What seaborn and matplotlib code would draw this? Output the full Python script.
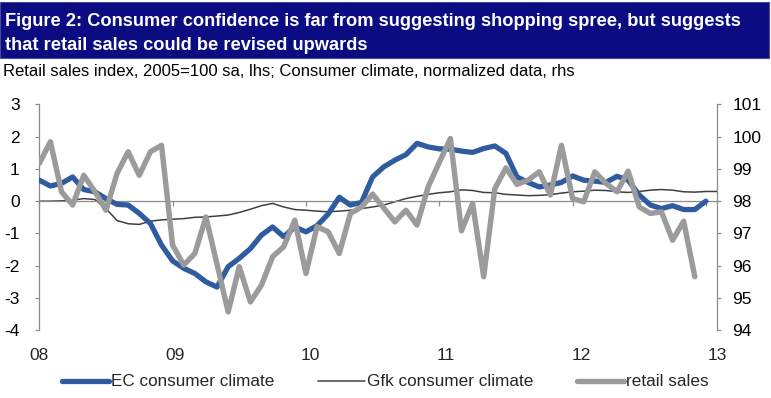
import numpy as np
import pandas as pd
import matplotlib
matplotlib.use("Agg")
import matplotlib.pyplot as plt
import seaborn as sns
from matplotlib.patches import Rectangle
from matplotlib import font_manager

# ---------------- data (monthly, month 0 = Jan 2008) ----------------
ec_climate = [0.65, 0.47, 0.55, 0.75, 0.36, 0.29, 0.08, -0.10, -0.12, -0.38, -0.69, -1.36, -1.85,
              -2.08, -2.24, -2.50, -2.66, -2.03, -1.77, -1.47, -1.05, -0.80, -1.10, -0.80, -0.95,
              -0.76, -0.40, 0.12, -0.12, -0.04, 0.75, 1.06, 1.27, 1.44, 1.79, 1.68, 1.62,
              1.61, 1.55, 1.51, 1.63, 1.71, 1.48, 0.75, 0.58, 0.44, 0.50, 0.58, 0.78,
              0.65, 0.62, 0.58, 0.77, 0.65, 0.19, -0.12, -0.23, -0.14, -0.26, -0.26, 0.00]
gfk_climate = [0.00, 0.00, 0.01, 0.03, 0.08, 0.05, -0.23, -0.60, -0.70, -0.72, -0.62, -0.58, -0.56,
               -0.54, -0.50, -0.49, -0.46, -0.43, -0.35, -0.25, -0.14, -0.07, -0.18, -0.26, -0.28,
               -0.31, -0.33, -0.31, -0.28, -0.23, -0.18, -0.12, -0.02, 0.08, 0.15, 0.21, 0.26,
               0.29, 0.35, 0.33, 0.27, 0.26, 0.21, 0.19, 0.17, 0.18, 0.20, 0.25, 0.29,
               0.31, 0.34, 0.33, 0.29, 0.27, 0.30, 0.34, 0.36, 0.34, 0.29, 0.28, 0.30, 0.30]
retail_sales = [99.17, 99.84, 98.29, 97.88, 98.80, 98.30, 97.72, 98.86, 99.53, 98.80, 99.53, 99.73,
                96.64, 96.02, 96.38, 97.51, 96.04, 94.57, 95.97, 94.88, 95.40, 96.28, 96.59, 97.41,
                95.76, 97.21, 97.05, 96.38, 97.62, 97.82, 98.22, 97.79, 97.36, 97.72, 97.26, 98.44,
                99.20, 99.94, 97.08, 97.93, 95.66, 98.39, 99.03, 98.52, 98.65, 98.91, 98.19, 99.73,
                98.08, 97.98, 98.91, 98.55, 98.29, 98.93, 97.82, 97.62, 97.67, 96.79, 97.38, 95.66]
year_labels = ["08", "09", "10", "11", "12", "13"]
left_ticks = [-4, -3, -2, -1, 0, 1, 2, 3]
right_ticks = [94, 95, 96, 97, 98, 99, 100, 101]
series_names = ["EC consumer climate", "Gfk consumer climate", "retail sales"]
title_lines = ["Figure 2: Consumer confidence is far from suggesting shopping spree, but suggests",
               "that retail sales could be revised upwards"]
subtitle = "Retail sales index, 2005=100 sa, lhs; Consumer climate, normalized data, rhs"

df_ec = pd.DataFrame({"month": np.arange(len(ec_climate)), "value": ec_climate})
df_gfk = pd.DataFrame({"month": np.arange(len(gfk_climate)), "value": gfk_climate})
df_rs = pd.DataFrame({"month": np.arange(len(retail_sales)), "value": retail_sales})

# ---------------- style ----------------
sns.set_style("white")
plt.rcParams["font.family"] = ["Liberation Sans", "DejaVu Sans"]
installed = {f.name for f in font_manager.fontManager.ttflist}
NARROW = ["Liberation Sans Narrow", "Liberation Sans", "DejaVu Sans"] \
    if "Liberation Sans Narrow" in installed else ["Liberation Sans", "DejaVu Sans"]

BLUE = "#2f5c9f"
GREY = "#9b9b9b"
DARK = "#404040"
AXC = "#8c8c8c"
NAVY = "#0b0b82"

W, H = 771, 398
fig = plt.figure(figsize=(W / 100, H / 100), dpi=100)
fig.patch.set_facecolor("white")

x0, x1, ytop, ybot = 39.3, 717.0, 104.3, 330.3
ax = fig.add_axes([x0 / W, 1 - ybot / H, (x1 - x0) / W, (ybot - ytop) / H])
ax2 = ax.twinx()

sns.lineplot(data=df_gfk, x="month", y="value", ax=ax, color=DARK, linewidth=1.1, zorder=2)
sns.lineplot(data=df_ec, x="month", y="value", ax=ax, color=BLUE, linewidth=3.8, zorder=3)
sns.lineplot(data=df_rs, x="month", y="value", ax=ax2, color=GREY, linewidth=3.9, zorder=3)

ax.set_xlim(0, 61)
ax.set_ylim(-4, 3)
ax2.set_ylim(94, 101)
for a in (ax, ax2):
    a.set_xlabel("")
    a.set_ylabel("")

# left axis
ax.set_yticks(left_ticks)
ax.set_yticklabels([str(v) for v in left_ticks])
for s in ["top", "right"]:
    ax.spines[s].set_visible(False)
ax.spines["left"].set_color(AXC)
ax.spines["left"].set_linewidth(0.9)
ax.spines["bottom"].set_position(("data", 0))
ax.spines["bottom"].set_color(AXC)
ax.spines["bottom"].set_linewidth(0.9)
ax.set_xticks(np.arange(0, 61, 12))
ax.tick_params(axis="x", which="both", direction="out", length=3.5, width=0.9,
               color=AXC, labelbottom=False, bottom=True)
ax.tick_params(axis="y", direction="out", length=3, width=0.9, color=AXC,
               labelsize=12.5, pad=11, labelcolor="black", left=True)

# right axis
ax2.set_yticks(right_ticks)
ax2.set_yticklabels([str(v) for v in right_ticks])
for s in ["top", "left", "bottom"]:
    ax2.spines[s].set_visible(False)
ax2.spines["right"].set_color(AXC)
ax2.spines["right"].set_linewidth(0.9)
ax2.tick_params(axis="y", direction="out", length=3, width=0.9, color=AXC,
                labelsize=12.5, pad=8, labelcolor="black", right=True)

# year labels evenly spread along the bottom
sec = ax.secondary_xaxis(0)
sec.set_xticks(np.linspace(0, 61, len(year_labels)))
sec.set_xticklabels(year_labels)
sec.tick_params(length=0, pad=13, labelsize=12.5)
sec.spines["bottom"].set_visible(False)

# legend
handles = [plt.Line2D([], [], color=BLUE, linewidth=3.8),
           plt.Line2D([], [], color=DARK, linewidth=1.1),
           plt.Line2D([], [], color=GREY, linewidth=3.9)]
fig.legend(handles, series_names, loc="center", bbox_to_anchor=(0.5, 1 - 382 / H),
           ncol=3, frameon=False, fontsize=12.3, handlelength=2.75, handletextpad=0.12,
           columnspacing=2.55)

# title box
fig.patches.append(Rectangle((0, 1 - 58 / H), 769 / W, 56 / H, transform=fig.transFigure,
                             facecolor=NAVY, edgecolor="#4a4a9a", linewidth=0.8, zorder=0))
t1 = fig.text(5 / W, 1 - 21 / H, title_lines[0], color="white", fontweight="bold",
              fontsize=13, va="center", ha="left", family=NARROW)
t2 = fig.text(5 / W, 1 - 46 / H, title_lines[1], color="white", fontweight="bold",
              fontsize=13, va="center", ha="left", family=NARROW)
st = fig.text(3 / W, 1 - 72 / H, subtitle, color="black", fontsize=11,
              va="center", ha="left", family=NARROW)

fig.canvas.draw()
r = fig.canvas.get_renderer()
w1 = t1.get_window_extent(r).width
fs = 13 * 733 / w1
t1.set_fontsize(fs)
t2.set_fontsize(fs)
ws = st.get_window_extent(r).width
st.set_fontsize(11 * 567 / ws)

fig.savefig("out.png", dpi=100, facecolor="white")
